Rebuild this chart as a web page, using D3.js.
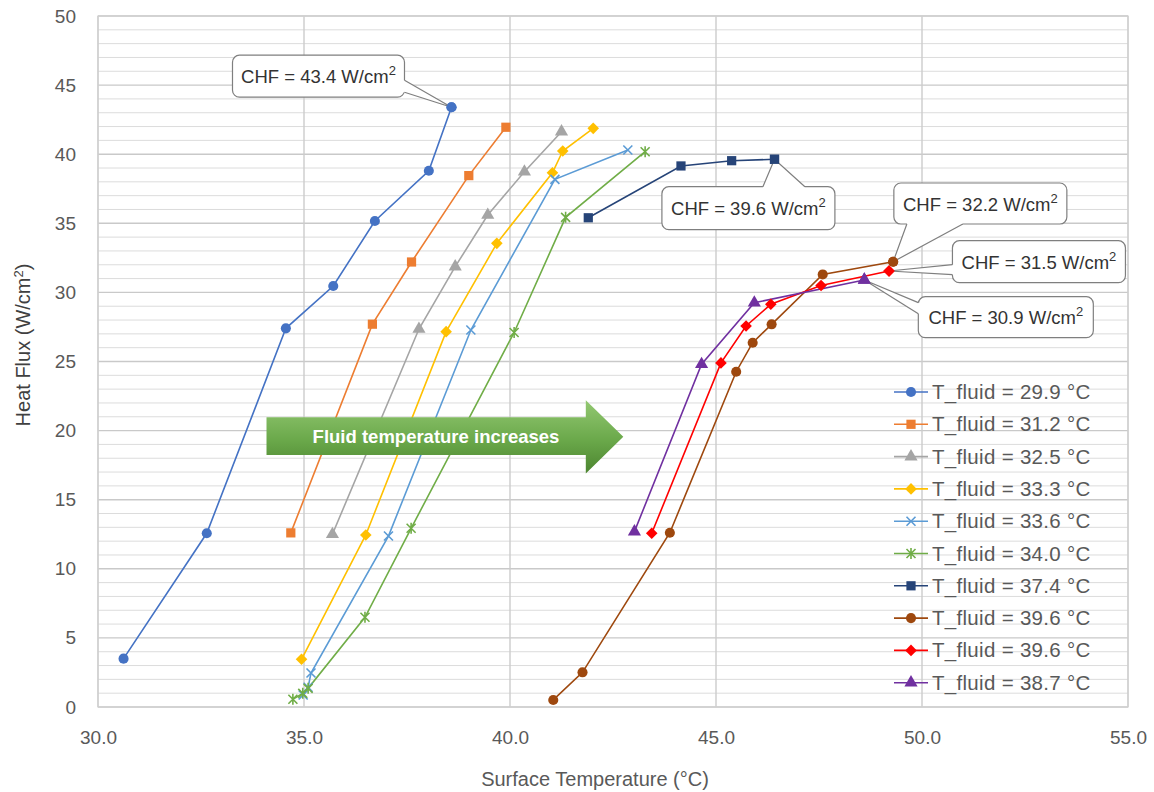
<!DOCTYPE html>
<html><head><meta charset="utf-8">
<script src="https://cdn.jsdelivr.net/npm/d3@7"></script>
<style>body{margin:0;background:#fff}svg{display:block}</style>
</head><body><svg id="c" width="1154" height="792"></svg>
<script>
// ---------- data ----------
const xTicks = [30, 35, 40, 45, 50, 55];
const yTicks = [0, 5, 10, 15, 20, 25, 30, 35, 40, 45, 50];
const xTitle = "Surface Temperature (°C)";
const yTitle = "Heat Flux (W/cm";
const legendLabels = ["T_fluid = 29.9 °C","T_fluid = 31.2 °C","T_fluid = 32.5 °C","T_fluid = 33.3 °C","T_fluid = 33.6 °C","T_fluid = 34.0 °C","T_fluid = 37.4 °C","T_fluid = 39.6 °C","T_fluid = 39.6 °C","T_fluid = 38.7 °C"];

const s1x = [30.62, 32.64, 34.56, 35.71, 36.72, 38.03, 38.58];
const s1y = [3.5, 12.57, 27.4, 30.46, 35.17, 38.8, 43.4];
const s2x = [34.68, 36.66, 37.61, 39.0, 39.9];
const s2y = [12.6, 27.7, 32.2, 38.45, 41.95];
const s3x = [35.69, 37.79, 38.67, 39.46, 40.35, 41.25];
const s3y = [12.5, 27.35, 31.86, 35.6, 38.73, 41.63];
const s4x = [34.94, 36.5, 38.45, 39.68, 41.03, 41.28, 42.02];
const s4y = [3.45, 12.45, 27.16, 33.55, 38.66, 40.23, 41.87];
const s5x = [34.98, 35.1, 35.17, 37.05, 39.05, 41.09, 42.86];
const s5y = [0.87, 1.43, 2.46, 12.37, 27.28, 38.18, 40.3];
const s6x = [34.73, 34.97, 35.1, 36.48, 37.6, 40.1, 41.35, 43.28];
const s6y = [0.56, 0.99, 1.35, 6.49, 12.93, 27.1, 35.43, 40.18];
const s7x = [41.9, 44.15, 45.38, 46.42];
const s7y = [35.4, 39.15, 39.53, 39.63];
const s8x = [41.05, 41.76, 43.88, 45.49, 45.89, 46.35, 47.59, 49.3];
const s8y = [0.51, 2.51, 12.61, 24.26, 26.36, 27.69, 31.3, 32.22];
const s9x = [43.44, 45.12, 45.73, 46.33, 47.55, 49.2];
const s9y = [12.57, 24.9, 27.57, 29.14, 30.5, 31.55];
const s10x = [43.02, 44.65, 45.93, 48.6];
const s10y = [12.69, 24.8, 29.25, 30.9];

const chfValues = ["43.4", "39.6", "32.2", "31.5", "30.9"];
const chfSeries = [0, 6, 7, 8, 9];
const arrowText = "Fluid temperature increases";

// ---------- styles ----------
const colors = ["#4472C4","#ED7D31","#A5A5A5","#FFC000","#5B9BD5","#70AD47","#264478","#9E480E","#FF0000","#7030A0"];
const markers = ["circle","square","triangle","diamond","x","star","square","circle","diamond","triangle"];
const FONT = "'Liberation Sans', Arial, sans-serif";

const seriesX = [s1x,s2x,s3x,s4x,s5x,s6x,s7x,s8x,s9x,s10x];
const seriesY = [s1y,s2y,s3y,s4y,s5y,s6y,s7y,s8y,s9y,s10y];
const series = seriesX.map((xs,i)=>xs.map((x,j)=>({x, y: seriesY[i][j]})));

const svg = d3.select("#c");
const L = 98, R = 1128, T = 16, B = 707;
const x = d3.scaleLinear().domain([30,55]).range([L,R]);
const y = d3.scaleLinear().domain([0,50]).range([B,T]);

// gridlines
const grid = svg.append("g");
const minor = d3.range(0, 51, 1).filter(v => v % 5 !== 0);
grid.selectAll(".mn").data(minor).join("line")
  .attr("x1", L).attr("x2", R).attr("y1", d=>y(d)).attr("y2", d=>y(d))
  .attr("stroke", "#dcdcdc").attr("stroke-width", 1);
grid.selectAll(".mj").data(yTicks).join("line")
  .attr("x1", L).attr("x2", R).attr("y1", d=>y(d)).attr("y2", d=>y(d))
  .attr("stroke", "#c9c9c9").attr("stroke-width", 1.4);
grid.selectAll(".vx").data(xTicks).join("line")
  .attr("x1", d=>x(d)).attr("x2", d=>x(d)).attr("y1", T).attr("y2", B)
  .attr("stroke", "#cccccc").attr("stroke-width", 1.4);
svg.append("rect").attr("x", L).attr("y", T).attr("width", R-L).attr("height", B-T)
  .attr("fill","none").attr("stroke","#d0d0d0").attr("stroke-width",1.2);

// axes
const xAxis = d3.axisBottom(x).tickValues(xTicks).tickFormat(d3.format(".1f")).tickSize(0).tickPadding(24);
const gx = svg.append("g").attr("transform", `translate(0,${B})`).call(xAxis);
const yAxis = d3.axisLeft(y).tickValues(yTicks).tickSize(0).tickPadding(22);
const gy = svg.append("g").attr("transform", `translate(${L},0)`).call(yAxis);
[gx, gy].forEach(g => {
  g.select(".domain").remove();
  g.selectAll("text").attr("font-family", FONT).attr("font-size", 19).attr("fill", "#595959");
});

svg.append("text").attr("x", 595).attr("y", 786).attr("text-anchor","middle")
  .attr("font-family", FONT).attr("font-size", 20).attr("fill","#595959").text(xTitle);
const yt = svg.append("text").attr("transform","translate(30,345) rotate(-90)").attr("text-anchor","middle")
  .attr("font-family", FONT).attr("font-size", 20).attr("fill","#404040");
yt.append("tspan").text(yTitle);
yt.append("tspan").attr("dy",-7).attr("font-size",13).text("2");
yt.append("tspan").attr("dy",7).text(")");

// lines
const line = d3.line().x(d=>x(d.x)).y(d=>y(d.y));
svg.append("g").selectAll("path").data(series).join("path")
  .attr("d", line).attr("fill","none").attr("stroke",(d,i)=>colors[i]).attr("stroke-width",1.6);

// markers
function drawMarker(g, type, color) {
  if (type === "x" || type === "star") {
    const s = 4.5;
    let d = `M${-s},${-s}L${s},${s}M${-s},${s}L${s},${-s}`;
    if (type === "star") d += `M0,${-s-1}L0,${s+1}`;
    g.append("path").attr("d", d).attr("stroke", color).attr("stroke-width", 1.6).attr("fill","none");
  } else if (type === "diamond") {
    const r = 5.8;
    g.append("path").attr("d", `M0,${-r}L${r},0L0,${r}L${-r},0Z`).attr("fill", color);
  } else {
    const map = {circle:[d3.symbolCircle,80], square:[d3.symbolSquare,85], triangle:[d3.symbolTriangle,75]};
    const [sym, size] = map[type];
    g.append("path").attr("d", d3.symbol(sym, size)()).attr("fill", color);
  }
}
series.forEach((pts, i) => {
  pts.forEach(p => {
    const g = svg.append("g").attr("transform", `translate(${x(p.x)},${y(p.y)})`);
    drawMarker(g, markers[i], colors[i]);
  });
});

// arrow annotation (above lines, placed with scales)
const defs = svg.append("defs");
const gr = defs.append("linearGradient").attr("id","ag").attr("x1",0).attr("y1",0).attr("x2",0).attr("y2",1);
gr.append("stop").attr("offset","0%").attr("stop-color","#93c872");
gr.append("stop").attr("offset","55%").attr("stop-color","#6aa84a");
gr.append("stop").attr("offset","100%").attr("stop-color","#4c8530");
const ax0 = x(34.09), ax1 = x(41.84), ax2 = x(42.75);
const ayT = y(20.96), ayB = y(18.23), ahT = y(22.2), ahB = y(16.9), aC = y(19.56);
svg.append("path").attr("d", `M${ax0},${ayT}L${ax1},${ayT}L${ax1},${ahT}L${ax2},${aC}L${ax1},${ahB}L${ax1},${ayB}L${ax0},${ayB}Z`)
  .attr("fill","url(#ag)");
svg.append("text").attr("x", 436).attr("y", aC+6.5).attr("text-anchor","middle")
  .attr("font-family", FONT).attr("font-weight","bold").attr("font-size",18.5).attr("fill","#fff").text(arrowText);

// legend
const lg = svg.append("g");
legendLabels.forEach((lab, i) => {
  const yy = 392 + i * 32.3;
  const g = lg.append("g").attr("transform", `translate(894,${yy})`);
  g.append("line").attr("x1",0).attr("x2",34).attr("stroke",colors[i]).attr("stroke-width",1.6);
  const m = g.append("g").attr("transform","translate(17,0)");
  drawMarker(m, markers[i], colors[i]);
  g.append("text").attr("x", 38).attr("y", 7).attr("font-family", FONT).attr("font-size", 20.5)
    .attr("letter-spacing", 0.3).attr("fill","#595959").text(lab);
});

// callouts: box offset relative to tip, wedge side & base offsets
const callouts = [
  {dx:-219, dy:-52, w:172, h:42, side:"right", a:25, b:37},
  {dx:-112.6, dy:27.4, w:173, h:43, side:"top", a:101, b:143},
  {dx:0.7, dy:-78.7, w:173, h:41, side:"bottom", a:13, b:69},
  {dx:63.4, dy:-30.3, w:173, h:42, side:"left", a:24, b:34},
  {dx:54, dy:16.7, w:175, h:41, side:"left", a:6, b:17}
];
callouts.forEach((c, k) => {
  const pts = series[chfSeries[k]];
  const p = pts[pts.length-1];
  const tx = x(p.x), ty = y(p.y);
  const bx = tx + c.dx, by = ty + c.dy;
  let p1, p2;
  if (c.side === "right") { p1 = [bx+c.w, by+c.a]; p2 = [bx+c.w, by+c.b]; }
  if (c.side === "left") { p1 = [bx, by+c.a]; p2 = [bx, by+c.b]; }
  if (c.side === "top") { p1 = [bx+c.a, by]; p2 = [bx+c.b, by]; }
  if (c.side === "bottom") { p1 = [bx+c.a, by+c.h]; p2 = [bx+c.b, by+c.h]; }
  const g = svg.append("g");
  g.append("rect").attr("x", bx).attr("y", by).attr("width", c.w).attr("height", c.h).attr("rx", 7)
    .attr("fill","#fff").attr("stroke","#7f7f7f").attr("stroke-width",1.2);
  const inset = 2;
  let q1 = p1.slice(), q2 = p2.slice();
  if (c.side === "right") { q1[0]-=inset; q2[0]-=inset; }
  if (c.side === "left") { q1[0]+=inset; q2[0]+=inset; }
  if (c.side === "top") { q1[1]+=inset; q2[1]+=inset; }
  if (c.side === "bottom") { q1[1]-=inset; q2[1]-=inset; }
  g.append("path").attr("d", `M${q1}L${p1}L${tx},${ty}L${p2}L${q2}Z`).attr("fill","#fff");
  g.append("path").attr("d", `M${p1}L${tx},${ty}L${p2}`).attr("fill","none").attr("stroke","#7f7f7f").attr("stroke-width",1.2);
  const t = g.append("text").attr("x", bx + c.w/2).attr("y", by + c.h/2 + 7).attr("text-anchor","middle")
    .attr("font-family", FONT).attr("font-size", 18.5).attr("fill","#333");
  t.append("tspan").text(`CHF = ${chfValues[k]} W/cm`);
  t.append("tspan").attr("dy",-8).attr("font-size",13).text("2");
});
// redraw the tip markers above the callout wedges
callouts.forEach((c,k) => {
  const i = chfSeries[k];
  const pts = series[i]; const p = pts[pts.length-1];
  const g = svg.append("g").attr("transform", `translate(${x(p.x)},${y(p.y)})`);
  drawMarker(g, markers[i], colors[i]);
});
</script></body></html>
